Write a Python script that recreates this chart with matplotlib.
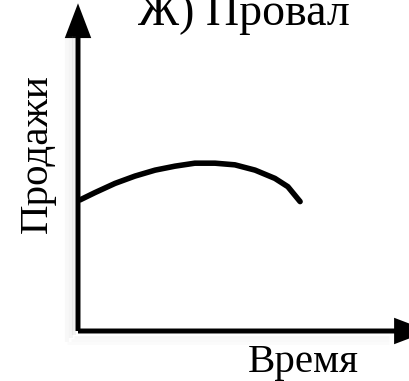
import matplotlib.pyplot as plt
from matplotlib.patches import FancyArrow

plt.rcParams["font.family"] = ["Liberation Serif", "DejaVu Serif"]

# sales curve of a product that flops: slow rise, early peak, decline
time = [0.06, 0.51, 1.12, 1.72, 2.33, 2.93, 3.53, 4.14, 4.74, 5.35, 5.95,
        6.34, 6.71]
sales = [3.96, 4.18, 4.46, 4.68, 4.86, 4.98, 5.07, 5.07, 5.02, 4.86, 4.61,
         4.36, 3.91]

title = "Ж) Провал"
xlabel = "Время"
ylabel = "Продажи"

W, H = 409, 381
fig = plt.figure(figsize=(W / 100, H / 100), dpi=100)
# axes origin sits at the corner of the two arrows; both spans are 331 px
ax = fig.add_axes([78 / W, 50 / H, 331 / W, 331 / H])
ax.set_xlim(0, 10)
ax.set_ylim(0, 10)
ax.axis("off")

# soft drop shadow along the left of the vertical axis and under the horizontal one
for off, alpha in [(0.12, 0.10), (0.22, 0.08), (0.32, 0.05)]:
    ax.plot([-off, -off], [-off, 8.9], color="gray", alpha=alpha,
            linewidth=3, clip_on=False, solid_capstyle="butt")
    ax.plot([-off, 9.4], [-off - 0.05, -off - 0.05], color="gray",
            alpha=alpha * 0.6, linewidth=2, clip_on=False,
            solid_capstyle="butt")

shaft = 0.15
for dx, dy, length in [(0, 1, 9.9), (1, 0, 10.6)]:
    ax.add_patch(FancyArrow(0, 0, dx * length, dy * length, width=shaft,
                            head_width=0.8, head_length=1.05,
                            length_includes_head=True, color="black",
                            linewidth=0, clip_on=False))

ax.plot(time, sales, color="black", linewidth=4, solid_capstyle="round",
        solid_joinstyle="round")

fig.text(244 / W, 1 - 25 / H, title, fontsize=33, ha="center", va="baseline")
fig.text(303 / W, 9 / H, xlabel, fontsize=29.5, ha="center", va="baseline")
fig.text(37 / W, 1 - 154 / H, ylabel, fontsize=29.5, rotation=90,
         ha="center", va="center")

fig.savefig("out.png", dpi=100)
